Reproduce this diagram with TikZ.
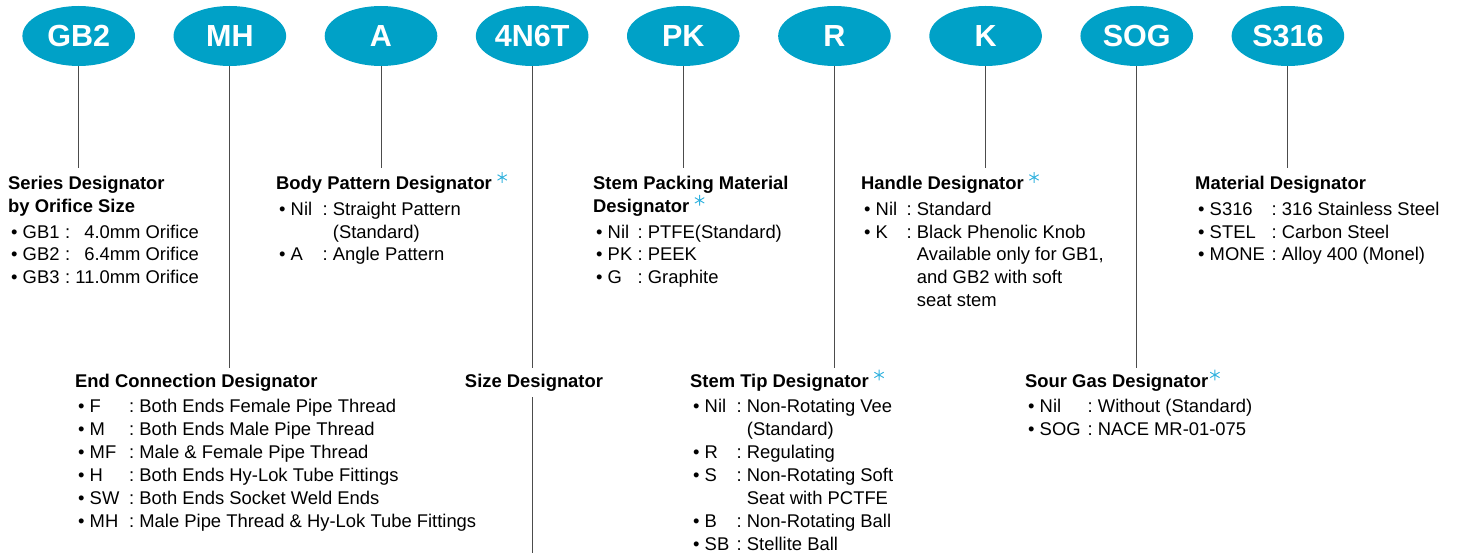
\documentclass[tikz,border=0pt]{standalone}
\usepackage{fontspec}
\setmainfont{Liberation Sans}
\usetikzlibrary{shapes.geometric}
\definecolor{hyblue}{RGB}{0,161,199}
\definecolor{astblue}{RGB}{50,178,222}
\newcommand{\hystar}{\smash{\tikz[x=1pt,y=1pt,baseline=0pt]\draw[astblue,line width=0.95pt] (0,12.3) +(90:5.4)--+(270:5.4) +(30:5.4)--+(210:5.4) +(150:5.4)--+(330:5.4);}}
\newcommand{\hd}[1]{\multicolumn{3}{@{}l}{\bfseries #1}}
\newcommand{\bl}{\hspace*{3pt}•\ }
\begin{document}
\begin{tikzpicture}[x=1pt,y=-1pt,
  tag/.style={ellipse,fill=hyblue,text=white,inner sep=0pt,minimum width=112.6pt,minimum height=60pt,font=\fontsize{30.5}{30.5}\selectfont\bfseries},
  blk/.style={inner xsep=0pt,inner ysep=5.5pt,font=\fontsize{18.4}{22.9}\selectfont},
  lowblk/.style={blk,inner ysep=3pt},
  lead/.style={draw=black!70,line width=0.9pt}]
\useasboundingbox (0,0) rectangle (1457,553);
\foreach \lab [count=\i] in {GB2,MH,A,4N6T,PK,R,K,SOG,S316}
  \node[tag] (e\i) at ({78.7+151.15*(\i-1)},36) {\lab};
\coordinate (bot) at (0,553);

\node[blk,anchor=north west] (ser) at (8,168) {\begin{tabular}{@{}p{57pt}@{}l@{\ }r@{}}
\hd{Series Designator}\\
\hd{by Orifice Size}\\[2.5pt]
\bl GB1 & : & 4.0mm Orifice\\
\bl GB2 & : & 6.4mm Orifice\\
\bl GB3 & : & 11.0mm Orifice
\end{tabular}};
\node[blk,anchor=north west] (body) at (276,168) {\begin{tabular}{@{}p{46.5pt}@{}l@{\ }l@{}}
\hd{Body Pattern Designator \hystar}\\[2.5pt]
\bl Nil & : & Straight Pattern\\
 & & (Standard)\\
\bl A & : & Angle Pattern
\end{tabular}};
\node[blk,anchor=north west] (pack) at (593,168) {\begin{tabular}{@{}p{44.5pt}@{}l@{\ }l@{}}
\hd{Stem Packing Material}\\
\hd{Designator \hystar}\\[2.5pt]
\bl Nil & : & PTFE(Standard)\\
\bl PK & : & PEEK\\
\bl G & : & Graphite
\end{tabular}};
\node[blk,anchor=north west] (hnd) at (861,168) {\begin{tabular}{@{}p{45.5pt}@{}l@{\ }l@{}}
\hd{Handle Designator \hystar}\\[2.5pt]
\bl Nil & : & Standard\\
\bl K & : & Black Phenolic Knob\\
 & & Available only for GB1,\\
 & & and GB2 with soft\\
 & & seat stem
\end{tabular}};
\node[blk,anchor=north west] (mat) at (1195,168) {\begin{tabular}{@{}p{76.5pt}@{}l@{\ }l@{}}
\hd{Material Designator}\\[2.5pt]
\bl S316 & : & 316 Stainless Steel\\
\bl STEL & : & Carbon Steel\\
\bl MONE & : & Alloy 400 (Monel)
\end{tabular}};

\node[lowblk,anchor=north west] (endc) at (75,368) {\begin{tabular}{@{}p{54pt}@{}l@{\ }l@{}}
\hd{End Connection Designator}\\[2.5pt]
\bl F & : & Both Ends Female Pipe Thread\\
\bl M & : & Both Ends Male Pipe Thread\\
\bl MF & : & Male \& Female Pipe Thread\\
\bl H & : & Both Ends Hy-Lok Tube Fittings\\
\bl SW & : & Both Ends Socket Weld Ends\\
\bl MH & : & Male Pipe Thread \& Hy-Lok Tube Fittings
\end{tabular}};
\node[lowblk,anchor=north] (size) at (534,368) {\strut\bfseries Size Designator};
\node[lowblk,anchor=north west] (tip) at (690,368) {\begin{tabular}{@{}p{46.5pt}@{}l@{\ }l@{}}
\hd{Stem Tip Designator \hystar}\\[2.5pt]
\bl Nil & : & Non-Rotating Vee\\
 & & (Standard)\\
\bl R & : & Regulating\\
\bl S & : & Non-Rotating Soft\\
 & & Seat with PCTFE\\
\bl B & : & Non-Rotating Ball\\
\bl SB & : & Stellite Ball
\end{tabular}};
\node[lowblk,anchor=north west] (sour) at (1025,368) {\begin{tabular}{@{}p{62.5pt}@{}l@{\ }l@{}}
\hd{Sour Gas Designator\hspace{1.5pt}\hystar}\\[2.5pt]
\bl Nil & : & Without (Standard)\\
\bl SOG & : & NACE MR-01-075
\end{tabular}};

\draw[lead] (e1.south) -- (e1 |- ser.north);
\draw[lead] (e2.south) -- (e2 |- endc.north);
\draw[lead] (e3.south) -- (e3 |- body.north);
\draw[lead] (e4.south) -- (e4 |- size.north);
\draw[lead] (e4 |- size.south) -- (e4 |- bot);
\draw[lead] (e5.south) -- (e5 |- pack.north);
\draw[lead] (e6.south) -- (e6 |- tip.north);
\draw[lead] (e7.south) -- (e7 |- hnd.north);
\draw[lead] (e8.south) -- (e8 |- sour.north);
\draw[lead] (e9.south) -- (e9 |- mat.north);
\end{tikzpicture}
\end{document}
